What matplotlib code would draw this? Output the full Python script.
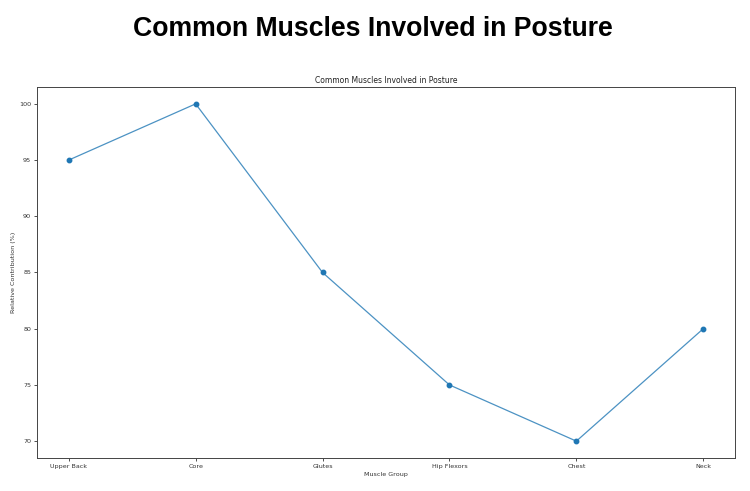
import matplotlib
matplotlib.use("Agg")
import matplotlib.pyplot as plt

categories = ["Upper Back", "Core", "Glutes", "Hip Flexors", "Chest", "Neck"]
values = [95, 100, 85, 75, 70, 80]
yticks = [70, 75, 80, 85, 90, 95, 100]

fig = plt.figure(figsize=(7.5, 4.91), dpi=100)
fig.text(0.497, 0.94, "Common Muscles Involved in Posture", ha="center", va="center",
         fontsize=19.2, fontweight="bold", family=["Liberation Sans", "DejaVu Sans"])

ax = fig.add_axes([37/750, 1 - 458/491, (735-37)/750, (458-87)/491])
ax.plot(categories, values, linewidth=0.9, color="#1f77b4", alpha=0.8)
ax.plot(categories, values, linestyle="none", marker="o", markersize=3.2, color="#1f77b4")
ax.set_yticks(yticks)
ax.tick_params(labelsize=4.6, length=2.2, width=0.6, pad=2, colors="#333333")
ax.set_title("Common Muscles Involved in Posture", fontsize=5.5, pad=3.2, color="#222222")
ax.set_xlabel("Muscle Group", fontsize=4.6, labelpad=2, color="#333333")
ax.set_ylabel("Relative Contribution (%)", fontsize=4.6, color="#333333")
ax.yaxis.set_label_coords(-0.0294, 0.5)
for s in ax.spines.values():
    s.set_linewidth(0.7)
    s.set_color("#444444")

fig.savefig("out.png", dpi=100)
